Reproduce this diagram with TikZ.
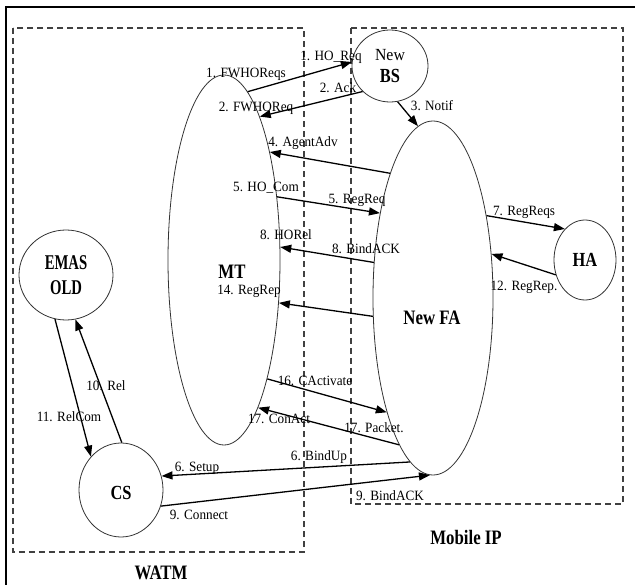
\documentclass[tikz,border=0pt]{standalone}
\usepackage{fontspec}
\setmainfont{Liberation Serif}
\newfontfamily\labfont{Liberation Serif}[FakeStretch=0.93]
\newfontfamily\ttlfont{Liberation Serif}[FakeStretch=0.82]
\newfontfamily\narfont{Liberation Serif}[FakeStretch=0.7]
\usetikzlibrary{shapes.geometric,arrows.meta}

\begin{document}
\begin{tikzpicture}[x=1pt,y=-1pt,
    ent/.style={draw=black!80, line width=0.8pt, ellipse, inner sep=0pt, align=center,
        font=\ttlfont\fontsize{20}{23}\selectfont\bfseries},
    msg/.style={line width=1.3pt, -{Triangle[length=11pt,width=8pt]}},
    lbl/.style={inner sep=0pt, font=\labfont\fontsize{14.2}{16}\selectfont},
    ttl/.style={inner sep=0pt, font=\ttlfont\fontsize{20.5}{23}\selectfont\bfseries},
    zone/.style={draw=black!75, line width=1.4pt, dash pattern=on 6pt off 4pt}]
    \useasboundingbox (0,0) rectangle (635,585);

    % frame and the two domains
    \draw[line width=1.4pt] (6,585) -- (6,7) -- (635,7);
    \draw[zone] (13,28) rectangle (304,552);
    \draw[zone] (351,28) rectangle (623,504);
    \node[ttl] (watm) at (161,573) {WATM};
    \node[ttl] (mip) at (466,537) {Mobile IP};

    % entities
    \node[ent, minimum width=112pt, minimum height=370pt] (mt) at (224,260) {};
    \node[ttl] (mtl) at (232,272) {MT};
    \node[ent, minimum width=120pt, minimum height=354pt] (fa) at (433,298) {};
    \node[ttl] (fal) at (432,318) {New FA};
    \node[ent, minimum width=76pt, minimum height=72pt] (bs) at (390,66) {{\labfont\fontsize{17}{20}\selectfont\mdseries New}\\[-1pt]BS};
    \node[ent, minimum width=62pt, minimum height=80pt] (ha) at (585,260) {HA};
    \node[ent, minimum width=94pt, minimum height=90pt,
        font=\narfont\fontsize{21}{25}\selectfont\bfseries] (emas) at (66,275) {EMAS\\OLD};
    \node[ent, minimum width=84pt, minimum height=94pt] (cs) at (121,490) {\\[-4pt]CS};

    % handover signalling
    \draw[msg] (mt.82) -- (bs.174);
    \draw[msg] (bs.223) -- (mt.76);
    \draw[msg] (bs.282) -- (fa.95);
    \draw[msg] (fa.109) -- (mt.67);
    \draw[msg] (mt.50) -- (fa.122);
    \draw[msg] (fa.149) -- (mt.13);
    \draw[msg] (fa.197) -- (mt.-38);
    \draw[msg] (fa.57) -- (ha.123);
    \draw[msg] (ha.207) -- (fa.37);
    \draw[msg] (mt.-70) -- (fa.248);
    \draw[msg] (fa.257) -- (mt.-77);
    \draw[msg] (fa.262) -- (cs.19);
    \draw[msg] (cs.-22) -- (fa.269);
    \draw[msg] (cs.89) -- (emas.-78);
    \draw[msg] (emas.256) -- (cs.132);

    % message labels
    \node[lbl] (m1a) at (246,74) {1. FWHOReqs};
    \node[lbl] (m1b) at (331,57) {1. HO\_Req};
    \node[lbl] (m2a) at (256,108) {2. FWHOReq};
    \node[lbl] (m2b) at (338,88) {2. Ack};
    \node[lbl] (m3) at (432,106) {3. Notif};
    \node[lbl] (m4) at (303,143) {4. AgentAdv};
    \node[lbl] (m5a) at (266,188) {5. HO\_Com};
    \node[lbl] (m5b) at (357,200) {5. RegReq};
    \node[lbl] (m8a) at (286,235) {8. HORel};
    \node[lbl] (m8b) at (366,249) {8. BindACK};
    \node[lbl] (m7) at (524,212) {7. RegReqs};
    \node[lbl] (m12) at (524,287) {12. RegRep.};
    \node[lbl] (m14) at (249,291) {14. RegRep};
    \node[lbl] (m16) at (315,381) {16. CActivate};
    \node[lbl] (m17a) at (279,419) {17. ConAct};
    \node[lbl] (m17b) at (374,428) {17. Packet.};
    \node[lbl] (m6a) at (319,457) {6. BindUp};
    \node[lbl] (m6b) at (197,468) {6. Setup};
    \node[lbl] (m9a) at (199,515) {9. Connect};
    \node[lbl] (m9b) at (390,496) {9. BindACK};
    \node[lbl] (m10) at (106,386) {10. Rel};
    \node[lbl] (m11) at (69,417) {11. RelCom};
\end{tikzpicture}
\end{document}
